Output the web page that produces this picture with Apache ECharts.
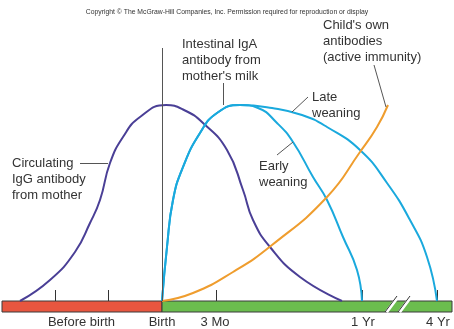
<!DOCTYPE html>
<html><head><meta charset="utf-8">
<script src="https://cdn.jsdelivr.net/npm/echarts@6/dist/echarts.min.js"></script>
<style>html,body{margin:0;padding:0;background:#fff}#c{width:454px;height:329px}</style>
</head><body><div id="c"></div>
<script>
// x: time units (birth = 0), y: relative antibody level
const iggX = [-142,-112,-87,-72,-62,-52,-39,-22,4,22,41,65,81,91,108,138,180];
const iggY = [0,10.5,24.5,39,50.5,69,82,92,98,95.5,89,75.5,55.5,40.5,27,12,0];
const riseX = [0,5,11,21,38,55,78];
const riseY = [0,27,50.5,67,84,94,98];
const earlyX = [96,115,131,151,165,181,195,200];
const earlyY = [96.5,89,79.5,62,50.5,32,15.5,0];
const lateX = [110,140,165,198,225,248,265,275];
const lateY = [96.5,93,87,75.5,59,40.5,22,0];
const ownX = [0,31,71,110,165,198,215,226];
const ownY = [0,4,14.5,28,52,74.5,87,98];
const tickValues = [-107,-54,0,54,200,275];
const labelValues = [-80.5,0,53,201,276];
const labelTexts = ['Before birth','Birth','3 Mo','1 Yr','4 Yr'];

const zip = (xs, ys) => xs.map((x,i)=>[x, ys[i]]);
const FONT = "'Liberation Sans', Arial, sans-serif";
const chart = echarts.init(document.getElementById('c'), null, {renderer:'canvas'});
const lineBase = {type:'line', showSymbol:false, symbol:'none', smooth:0.5, silent:true, animation:false, clip:false};
const lead = (a,b)=>[{coord:a},{coord:b}];
chart.setOption({
  animation:false,
  grid:{left:0,right:0,top:41,bottom:17},
  xAxis:{type:'value',min:-162,max:292,splitLine:{show:false},axisLine:{show:false},
    axisTick:{show:true,inside:true,length:11,customValues:tickValues,lineStyle:{color:'#333',width:1}},
    axisLabel:{show:true,customValues:labelValues,margin:4,fontSize:13,fontFamily:FONT,color:'#333',
      formatter:(v)=>{const i=labelValues.indexOf(v);return i>=0?labelTexts[i]:'';}}},
  yAxis:{type:'value',min:-5.5,max:130,show:false,splitLine:{show:false}},
  series:[
    {...lineBase, name:'strip', data:[], z:1,
      markArea:{silent:true, data:[
        [{xAxis:-160,yAxis:-5.5,itemStyle:{color:'#e8563f',borderColor:'#3a3a3a',borderWidth:1}},{xAxis:0,yAxis:0}],
        [{xAxis:0,yAxis:-5.5,itemStyle:{color:'#6bbd4e',borderColor:'#3a3a3a',borderWidth:1}},{xAxis:290,yAxis:0}]
      ]},
      markLine:{silent:true,symbol:'none',label:{show:false},lineStyle:{color:'#555',width:1,type:'solid'},data:[
        lead([0,0],[0,126.5]),
        lead([-82,69],[-54,69]),
        lead([61,109],[61,98]),
        lead([212,118],[224,97]),
        lead([130,94.5],[146,102]),
        lead([115,73],[131,79.5])
      ]}
    },
    {...lineBase, name:'breakWhite', data:[], z:5,
      markLine:{silent:true,symbol:'none',label:{show:false},lineStyle:{color:'#fff',width:3.5,type:'solid'},data:[
        lead([224.5,-5.5],[236.5,2.5]), lead([237.5,-5.5],[249.5,2.5])
      ]}},
    {...lineBase, name:'breakDark', data:[], z:6,
      markLine:{silent:true,symbol:'none',label:{show:false},lineStyle:{color:'#333',width:1,type:'solid'},data:[
        lead([223,-5.5],[235,2.5]), lead([236,-5.5],[248,2.5])
      ]}},
    {...lineBase, name:'IgG', data:zip(iggX,iggY), z:3, lineStyle:{color:'#4a3f96',width:2}},
    {...lineBase, name:'Early', data:zip(riseX.concat(earlyX),riseY.concat(earlyY)), z:3, lineStyle:{color:'#1aa9dd',width:2}},
    {...lineBase, name:'Late', data:zip(riseX.concat(lateX),riseY.concat(lateY)), z:3, lineStyle:{color:'#1aa9dd',width:2}},
    {...lineBase, name:'Own', data:zip(ownX,ownY), z:3, lineStyle:{color:'#ef9d2e',width:2}}
  ],
  graphic:[
    {type:'text',left:'center',top:9,style:{text:'Copyright © The McGraw-Hill Companies, Inc. Permission required for reproduction or display',font:'6.8px '+FONT,fill:'#333'}},
    {type:'text',x:12,y:155,style:{text:'Circulating\nIgG antibody\nfrom mother',font:'13px '+FONT,lineHeight:16,fill:'#333'}},
    {type:'text',x:182,y:36,style:{text:'Intestinal IgA\nantibody from\nmother\'s milk',font:'13px '+FONT,lineHeight:16,fill:'#333'}},
    {type:'text',x:323,y:17,style:{text:'Child\'s own\nantibodies\n(active immunity)',font:'13px '+FONT,lineHeight:16,fill:'#333'}},
    {type:'text',x:312,y:89,style:{text:'Late\nweaning',font:'13px '+FONT,lineHeight:16,fill:'#333'}},
    {type:'text',x:259,y:158,style:{text:'Early\nweaning',font:'13px '+FONT,lineHeight:16,fill:'#333'}}
  ]
});
</script></body></html>
